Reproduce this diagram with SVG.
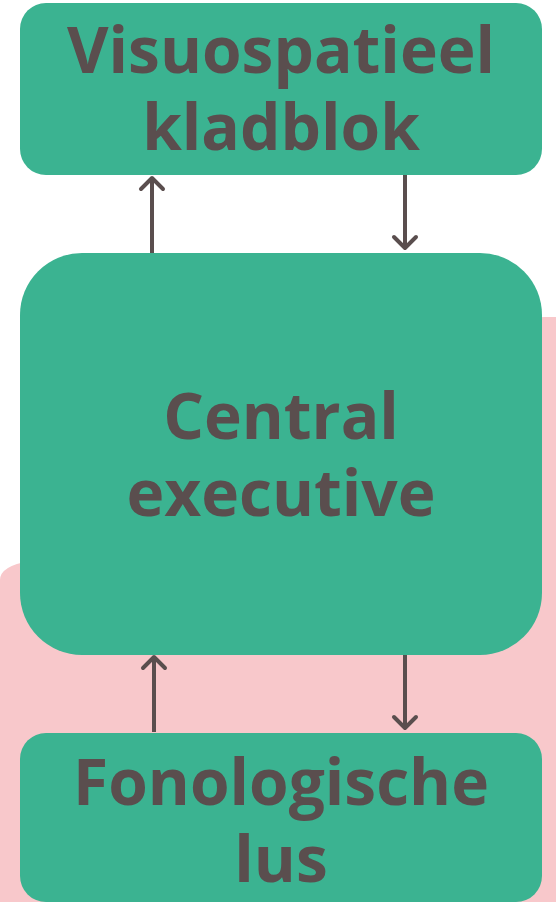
<svg xmlns="http://www.w3.org/2000/svg" width="556" height="902" viewBox="0 0 556 902">
<style>
.box{fill:#3bb391}
.lbl{font-family:"Open Sans","Liberation Sans",sans-serif;font-weight:700;font-size:64px;fill:#5a4e4e;text-anchor:middle}
.con{stroke:#5a4e4e;stroke-width:4;fill:none}
.head{stroke:#5a4e4e;stroke-width:4;fill:none;stroke-linecap:round;stroke-linejoin:round}
</style>
<rect width="556" height="902" fill="#ffffff"/>
<path d="M0,902 L0,580 Q0,566 30,561 L500,330 Q520,317 545,317 L556,317 L556,902 Z" fill="#f8c8cb"/>
<g id="connectors">
<line class="con" x1="152" y1="253" x2="152" y2="178"/>
<polyline class="head" points="141,189 152,178 163,189"/>
<line class="con" x1="405" y1="175" x2="405" y2="248"/>
<polyline class="head" points="394,237 405,248 416,237"/>
<line class="con" x1="154" y1="732" x2="154" y2="657"/>
<polyline class="head" points="143,668 154,657 165,668"/>
<line class="con" x1="405" y1="655" x2="405" y2="728"/>
<polyline class="head" points="394,717 405,728 416,717"/>
</g>
<g id="visuospatieel">
<rect class="box" x="20" y="3" width="522" height="172" rx="26"/>
<text class="lbl" x="281" y="73">Visuospatieel</text>
<text class="lbl" x="281" y="150">kladblok</text>
</g>
<g id="central">
<rect class="box" x="20" y="253" width="522" height="402" rx="62"/>
<text class="lbl" x="281" y="439">Central</text>
<text class="lbl" x="281" y="516">executive</text>
</g>
<g id="fonologische">
<rect class="box" x="20" y="733" width="522" height="169" rx="26"/>
<text class="lbl" x="281" y="805">Fonologische</text>
<text class="lbl" x="281" y="882">lus</text>
</g>
</svg>
